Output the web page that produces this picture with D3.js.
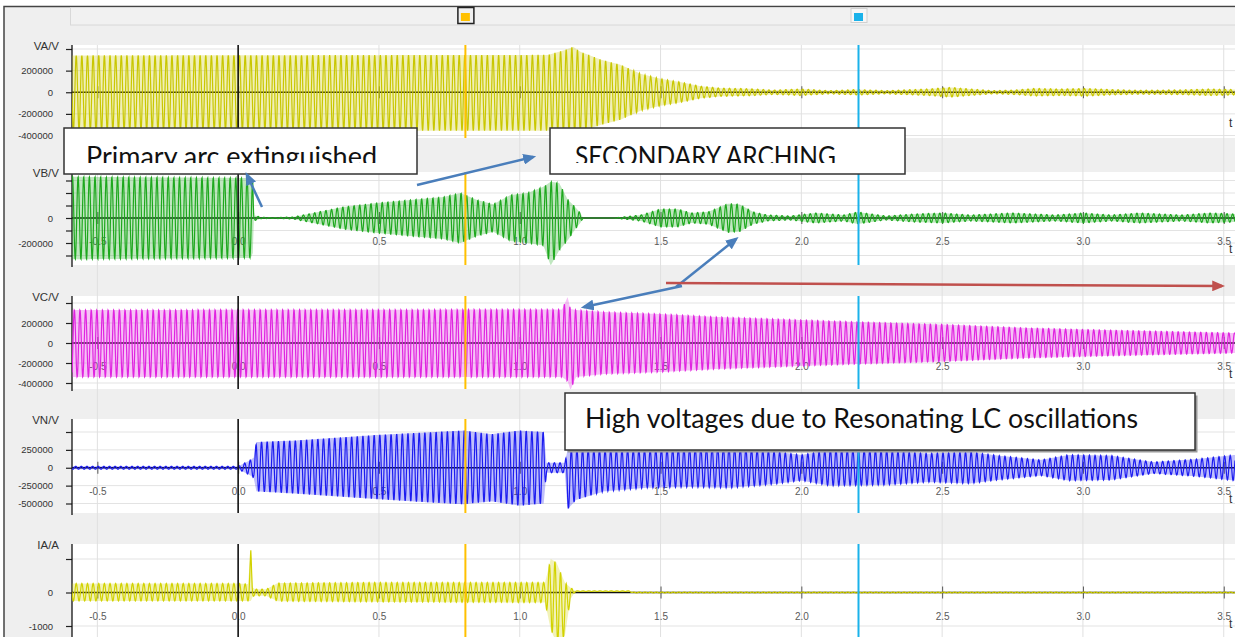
<!DOCTYPE html>
<html lang="en">
<head>
<meta charset="UTF-8">
<title>Secondary arc transients</title>
<script src="https://d3js.org/d3.v7.min.js"></script>
<style>
  body { margin: 0; background: #fff; }
  svg { display: block; font-family: "Liberation Sans", Arial, sans-serif; }
  .note { font-family: Lato, "Open Sans", sans-serif; fill: #111; }
</style>
</head>
<body>
<div id="chart"></div>
<script>
// ---- data ----
const xTicks = [-0.5, 0, 0.5, 1, 1.5, 2, 2.5, 3, 3.5];
const xTickLabels = ["-0.5", "0.0", "0.5", "1.0", "1.5", "2.0", "2.5", "3.0", "3.5"];
const cursorTimes = [0.807, 2.203];
const cursorColors = ["#ffc000", "#1ab2ea"];
const carrierHz = 50; // power frequency of the oscillations

const panelNames = ["VA/V", "VB/V", "VC/V", "VN/V", "IA/A"];

const yTicksVA = [400000, 200000, 0, -200000, -400000];
const yLabelsVA = ["", "200000", "0", "-200000", "-400000"];
const yTicksVB = [300000, 200000, 100000, 0, -100000, -200000, -300000];
const yLabelsVB = ["", "", "", "0", "", "-200000", ""];
const yTicksVC = [400000, 200000, 0, -200000, -400000];
const yLabelsVC = ["", "200000", "0", "-200000", "-400000"];
const yTicksVN = [500000, 250000, 0, -250000, -500000];
const yLabelsVN = ["", "250000", "0", "-250000", "-500000"];
const yTicksIA = [1000, 0, -1000];
const yLabelsIA = ["", "0", "-1000"];

// envelopes: time (s), upper peak, lower peak
const vaT  = [-0.59, 1.10, 1.16, 1.19, 1.215, 1.29, 1.357, 1.43, 1.50, 1.571, 1.642, 1.713, 1.82, 1.90, 2.00, 2.10, 2.20, 2.30, 2.45, 2.53, 2.60, 2.68, 2.75, 2.83, 2.92, 3.01, 3.10, 3.20, 3.35, 3.45, 3.54];
const vaHi = [340000, 345000, 390000, 420000, 375000, 300000, 255000, 170000, 125000, 94000, 56000, 38000, 32000, 20000, 30000, 15000, 25000, 15000, 30000, 45000, 30000, 15000, 20000, 35000, 30000, 35000, 25000, 18000, 22000, 30000, 25000];
const vaLo = [-355000, -355000, -370000, -380000, -365000, -300000, -255000, -170000, -125000, -94000, -56000, -38000, -32000, -20000, -30000, -15000, -25000, -15000, -30000, -45000, -30000, -15000, -20000, -35000, -30000, -35000, -25000, -18000, -22000, -30000, -25000];

const vbT  = [-0.59, 0.045, 0.052, 0.056, 0.06, 0.08, 0.12, 0.195, 0.267, 0.373, 0.494, 0.611, 0.729, 0.789, 0.849, 0.906, 0.967, 1.027, 1.084, 1.11, 1.14, 1.17, 1.20, 1.215, 1.225, 1.335, 1.43, 1.50, 1.56, 1.61, 1.67, 1.74, 1.78, 1.83, 1.88, 1.96, 2.05, 2.15, 2.20, 2.30, 2.40, 2.50, 2.60, 2.75, 2.90, 3.00, 3.10, 3.20, 3.35, 3.45, 3.54];
const vbHi = [330000, 320000, 280000, 0, 20000, 6000, 3000, 8000, 40000, 88000, 120000, 144000, 168000, 200000, 144000, 110000, 184000, 200000, 250000, 290000, 280000, 150000, 80000, 40000, 0, 0, 24000, 72000, 72000, 40000, 50000, 115000, 110000, 48000, 24000, 16000, 40000, 24000, 48000, 16000, 32000, 40000, 24000, 40000, 24000, 40000, 24000, 40000, 24000, 40000, 32000];
const vbLo = [-330000, -320000, -280000, 0, -20000, -6000, -3000, -8000, -40000, -88000, -120000, -144000, -168000, -200000, -144000, -110000, -184000, -200000, -220000, -380000, -260000, -180000, -80000, -40000, 0, 0, -24000, -72000, -72000, -40000, -50000, -115000, -110000, -48000, -24000, -16000, -40000, -24000, -48000, -16000, -32000, -40000, -24000, -40000, -24000, -40000, -24000, -40000, -24000, -40000, -32000];

const vcT  = [-0.59, 1.15, 1.17, 1.18, 1.20, 1.30, 1.50, 1.70, 2.00, 2.20, 2.50, 2.80, 3.00, 3.30, 3.54];
const vcHi = [330000, 335000, 460000, 340000, 330000, 310000, 290000, 260000, 230000, 210000, 185000, 150000, 135000, 115000, 100000];
const vcLo = [-340000, -340000, -380000, -470000, -340000, -310000, -290000, -260000, -230000, -210000, -185000, -150000, -135000, -115000, -100000];

const vnT  = [-0.59, 0.0, 0.02, 0.04, 0.055, 0.065, 0.2, 0.35, 0.5, 0.7, 0.8, 0.9, 1.0, 1.085, 1.095, 1.16, 1.17, 1.2, 1.3, 1.45, 1.6, 1.75, 1.9, 2.0, 2.1, 2.3, 2.45, 2.6, 2.7, 2.85, 2.95, 3.1, 3.25, 3.4, 3.54];
const vnHi = [20000, 20000, 60000, 100000, 140000, 360000, 380000, 420000, 460000, 500000, 520000, 470000, 520000, 500000, 70000, 70000, 250000, 260000, 250000, 250000, 270000, 280000, 230000, 180000, 250000, 240000, 200000, 220000, 170000, 110000, 180000, 170000, 80000, 120000, 180000];
const vnLo = [-20000, -20000, -60000, -100000, -140000, -330000, -360000, -400000, -440000, -490000, -510000, -470000, -530000, -500000, -70000, -70000, -580000, -450000, -330000, -280000, -270000, -280000, -230000, -180000, -250000, -240000, -200000, -220000, -170000, -110000, -180000, -170000, -80000, -120000, -180000];

const iaT  = [-0.59, 0.0, 0.035, 0.045, 0.052, 0.06, 0.1, 0.14, 0.5, 1.09, 1.11, 1.13, 1.16, 1.18, 1.195, 1.2, 1.39, 1.4, 3.54];
const iaHi = [270, 270, 250, 1260, 150, 100, 100, 280, 300, 300, 1000, 900, 300, 150, 60, 50, 50, 15, 15];
const iaLo = [-250, -250, -250, -250, -120, -100, -100, -260, -280, -300, -1100, -1500, -1300, -200, 0, 30, 30, -15, -15];

// ---- layout ----
const width = 1235, height = 637;
const left = 72;

const panels = [
  { name: panelNames[0], top: 45,  bottom: 138, domain: [-400000, 400000], range: [135.5, 49], ticks: yTicksVA, labels: yLabelsVA, t: vaT, hi: vaHi, lo: vaLo, color: "#c9c700", phase: 0, xLabels: false },
  { name: panelNames[1], top: 172, bottom: 265, domain: [-300000, 300000], range: [255.5, 180.5], ticks: yTicksVB, labels: yLabelsVB, t: vbT, hi: vbHi, lo: vbLo, color: "#1ea81e", phase: -2.09, xLabels: true },
  { name: panelNames[2], top: 296, bottom: 389, domain: [-400000, 400000], range: [383, 303], ticks: yTicksVC, labels: yLabelsVC, t: vcT, hi: vcHi, lo: vcLo, color: "#e024e0", phase: 2.09, xLabels: true },
  { name: panelNames[3], top: 419, bottom: 513, domain: [-500000, 500000], range: [503.5, 432], ticks: yTicksVN, labels: yLabelsVN, t: vnT, hi: vnHi, lo: vnLo, color: "#1c1cf0", phase: 0.6, xLabels: true },
  { name: panelNames[4], top: 544, bottom: 640, domain: [-1000, 1000], range: [626, 559], ticks: yTicksIA, labels: yLabelsIA, t: iaT, hi: iaHi, lo: iaLo, color: "#d2d200", phase: 0, xLabels: true }
];

const svg = d3.select("#chart").append("svg")
  .attr("width", width)
  .attr("height", height);

const x = d3.scaleLinear().domain([-0.59, 3.54]).range([left, width]);

// background frame
svg.append("rect").attr("width", width).attr("height", height).attr("fill", "#fff");
svg.append("rect")
  .attr("x", 4).attr("y", 6.5).attr("width", width).attr("height", height)
  .attr("fill", "#efefef").attr("stroke", "#444").attr("stroke-width", 1.5);

// cursor strip on top
svg.append("rect")
  .attr("x", 70.5).attr("y", 7.5).attr("width", 1170).attr("height", 17.5)
  .attr("fill", "#f1f1f1").attr("stroke", "#d8d8d8");
cursorTimes.forEach((ct, i) => {
  const cx = x(ct);
  svg.append("rect")
    .attr("x", cx - 7.5).attr("y", i === 0 ? 7.5 : 8.5)
    .attr("width", 16).attr("height", i === 0 ? 16 : 14)
    .attr("fill", i === 0 ? "#efefef" : "#f6f6f6")
    .attr("stroke", i === 0 ? "#222" : "#d0d0d0")
    .attr("stroke-width", i === 0 ? 1.5 : 1);
  svg.append("rect")
    .attr("x", cx - 4.5).attr("y", 13).attr("width", 9).attr("height", 8)
    .attr("fill", cursorColors[i]);
});

const defs = svg.append("defs");

// panel backgrounds + horizontal grid
panels.forEach((p, i) => {
  p.y = d3.scaleLinear().domain(p.domain).range(p.range);
  svg.append("rect")
    .attr("x", left).attr("y", p.top)
    .attr("width", width - left).attr("height", p.bottom - p.top)
    .attr("fill", "#fff");
  svg.append("g").selectAll("line")
    .data(p.ticks)
    .join("line")
    .attr("x1", left).attr("x2", width)
    .attr("y1", d => p.y(d)).attr("y2", d => p.y(d))
    .attr("stroke", "#e3e3e3");
  defs.append("clipPath").attr("id", "clip" + i)
    .append("rect")
    .attr("x", left).attr("y", p.top)
    .attr("width", width - left).attr("height", p.bottom - p.top);
});

// vertical grid
svg.append("g").selectAll("line")
  .data(xTicks.filter(d => d !== 0))
  .join("line")
  .attr("x1", d => x(d)).attr("x2", d => x(d))
  .attr("y1", 45).attr("y2", height)
  .attr("stroke", "#e0e0e0");

const times = d3.range(-0.59, 3.5405, 0.001);

panels.forEach((p, i) => {
  const y = p.y;
  const y0 = y(0);
  const g = svg.append("g");

  // zero line with time axis
  g.append("line")
    .attr("x1", left).attr("x2", width)
    .attr("y1", y0).attr("y2", y0)
    .attr("stroke", "#111").attr("stroke-width", 1.3);

  const xAxis = g.append("g")
    .attr("transform", `translate(0,${y0})`)
    .call(d3.axisBottom(x)
      .tickValues(xTicks)
      .tickFormat((d, k) => p.xLabels ? xTickLabels[k] : "")
      .tickSize(6)
      .tickPadding(14));
  xAxis.select(".domain").remove();
  xAxis.selectAll(".tick line").attr("y1", -6).attr("stroke", "#555");
  xAxis.selectAll(".tick text")
    .attr("font-size", 10).attr("fill", "#5a5a5a")
    .attr("font-family", "Liberation Sans, Arial, sans-serif");

  g.append("text")
    .attr("x", 1229).attr("y", y0 + 35)
    .attr("font-size", 12).attr("fill", "#333")
    .text("t");

  // y axis on the left edge
  const yAxis = g.append("g")
    .attr("transform", `translate(${left},0)`)
    .call(d3.axisLeft(y)
      .tickValues(p.ticks)
      .tickFormat((d, k) => p.labels[k])
      .tickSize(6)
      .tickPadding(13));
  yAxis.select(".domain").remove();
  yAxis.selectAll(".tick line").attr("stroke", "#222").attr("stroke-width", 1.2);
  yAxis.selectAll(".tick text")
    .attr("font-size", 9.5).attr("fill", "#333")
    .attr("font-family", "Liberation Sans, Arial, sans-serif");
  g.append("line")
    .attr("x1", left).attr("x2", left)
    .attr("y1", p.top).attr("y2", Math.min(p.bottom + 2, height))
    .attr("stroke", "#111").attr("stroke-width", 1.3);

  g.append("text")
    .attr("x", 59).attr("y", p.top + 5)
    .attr("text-anchor", "end")
    .attr("font-size", 11.5).attr("fill", "#333")
    .text(p.name);

  // waveform: envelope, times the 50 Hz carrier
  const hiAt = d3.scaleLinear().domain(p.t).range(p.hi).clamp(true);
  const loAt = d3.scaleLinear().domain(p.t).range(p.lo).clamp(true);
  const wave = times.map(t => {
    const hi = hiAt(t), lo = loAt(t);
    const mid = (hi + lo) / 2, half = (hi - lo) / 2;
    return [t, mid + half * Math.sin(2 * Math.PI * carrierHz * t + p.phase), hi, lo];
  });

  const band = d3.area()
    .x(d => x(d[0]))
    .y0(d => y(d[3]))
    .y1(d => y(d[2]));
  g.append("path")
    .attr("clip-path", `url(#clip${i})`)
    .attr("d", band(wave))
    .attr("fill", p.color)
    .attr("fill-opacity", 0.28);

  const line = d3.line().x(d => x(d[0])).y(d => y(d[1]));
  g.append("path")
    .attr("clip-path", `url(#clip${i})`)
    .attr("d", line(wave))
    .attr("fill", "none")
    .attr("stroke", p.color)
    .attr("stroke-width", 1.2);

  // t = 0 line and cursors
  g.append("line")
    .attr("x1", x(0)).attr("x2", x(0))
    .attr("y1", p.top).attr("y2", Math.min(p.bottom, height))
    .attr("stroke", "#111").attr("stroke-width", 1.6);
  cursorTimes.forEach((ct, k) => {
    g.append("line")
      .attr("x1", x(ct)).attr("x2", x(ct))
      .attr("y1", p.top).attr("y2", Math.min(p.bottom, height))
      .attr("stroke", cursorColors[k]).attr("stroke-width", 2);
  });
});

// ---- annotations ----
const blue = "#4a7ebb", red = "#c0504d";
[["arrowBlue", blue], ["arrowRed", red]].forEach(([id, c]) => {
  defs.append("marker")
    .attr("id", id)
    .attr("viewBox", "0 0 12 10")
    .attr("refX", 9).attr("refY", 5)
    .attr("markerUnits", "userSpaceOnUse")
    .attr("markerWidth", 13).attr("markerHeight", 11)
    .attr("orient", "auto")
    .append("path").attr("d", "M0,0 L12,5 L0,10 Z").attr("fill", c);
});

const notes = [
  { x: 64, y: 128, w: 353, h: 46, text: "Primary arc extinguished", tx: 86, ty: 166, tl: 291, clip: 163 },
  { x: 550, y: 128, w: 355, h: 46, text: "SECONDARY ARCHING", tx: 575, ty: 166, tl: 261, clip: 163 },
  { x: 565, y: 393, w: 630, h: 57, text: "High voltages due to Resonating LC oscillations", tx: 585, ty: 428, tl: 553, shadow: true }
];

notes.forEach((n, i) => {
  if (n.shadow) {
    svg.append("rect")
      .attr("x", n.x + 2.5).attr("y", n.y + 2.5)
      .attr("width", n.w).attr("height", n.h)
      .attr("fill", "#9a9a9a");
  }
  svg.append("rect")
    .attr("x", n.x).attr("y", n.y)
    .attr("width", n.w).attr("height", n.h)
    .attr("fill", "#fff").attr("stroke", "#333").attr("stroke-width", 1.5);
  const t = svg.append("text")
    .attr("class", "note")
    .attr("x", n.tx).attr("y", n.ty)
    .attr("font-size", 26)
    .attr("textLength", n.tl)
    .attr("lengthAdjust", "spacingAndGlyphs")
    .text(n.text);
  if (n.clip) {
    defs.append("clipPath").attr("id", "noteClip" + i)
      .append("rect")
      .attr("x", n.x).attr("y", n.y)
      .attr("width", n.w).attr("height", n.clip - n.y);
    t.attr("clip-path", `url(#noteClip${i})`);
  }
});

const arrows = [
  { x1: 262, y1: 207, x2: 247, y2: 175, c: "arrowBlue" },
  { x1: 417, y1: 185, x2: 533, y2: 157, c: "arrowBlue" },
  { x1: 676, y1: 287, x2: 736, y2: 239, c: "arrowBlue" },
  { x1: 682, y1: 286, x2: 584, y2: 307, c: "arrowBlue" },
  { x1: 666, y1: 283, x2: 1222, y2: 286, c: "arrowRed" }
];
svg.append("g").selectAll("line")
  .data(arrows)
  .join("line")
  .attr("x1", d => d.x1).attr("y1", d => d.y1)
  .attr("x2", d => d.x2).attr("y2", d => d.y2)
  .attr("stroke", d => d.c === "arrowRed" ? red : blue)
  .attr("stroke-width", 2.5)
  .attr("marker-end", d => `url(#${d.c})`);
</script>
</body>
</html>
